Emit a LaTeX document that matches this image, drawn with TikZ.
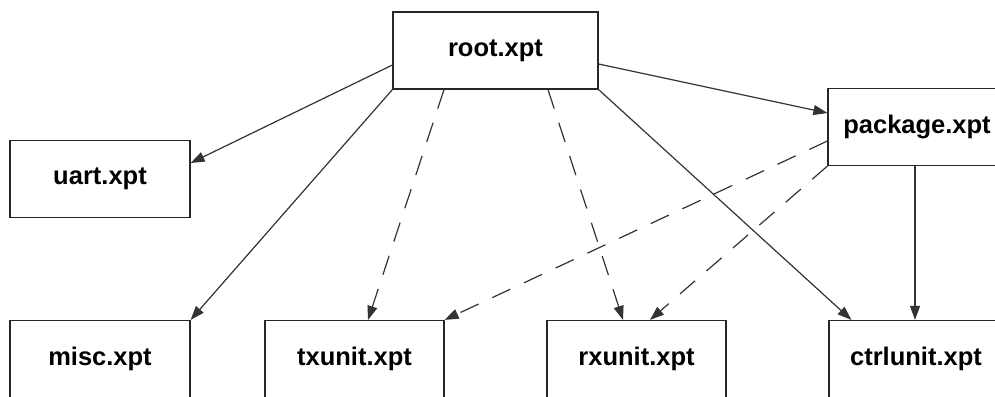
\documentclass[tikz,border=0pt]{standalone}
\usepackage{fontspec}
\setmainfont{Liberation Sans}
\usetikzlibrary{arrows.meta}
\begin{document}
\begin{tikzpicture}[x=1pt, y=-1pt, line join=miter, >={Triangle[length=14pt,width=10pt]},
		font=\fontsize{25.5}{30}\selectfont\bfseries,
		file/.style={draw, line width=1.2pt, draw=black!85, fill=white, inner sep=0pt, minimum height=77pt},
		link/.style={->, line width=1.2pt, draw=black!80},
		uses/.style={link, dash pattern=on 20pt off 15pt}]
	\useasboundingbox (0,0) rectangle (995,396);
	\clip (0,0) rectangle (995,396);
	% files
	\node[file, minimum width=205pt] (root) at (495.5,50.5) {root.xpt};
	\node[file, minimum width=180pt] (uart) at (100,179) {uart.xpt};
	\node[file, minimum width=178pt] (package) at (917,127) {package.xpt};
	\node[file, minimum width=180pt] (misc) at (100,359) {misc.xpt};
	\node[file, minimum width=179pt] (txunit) at (354.5,359) {txunit.xpt};
	\node[file, minimum width=179pt] (rxunit) at (636.5,359) {rxunit.xpt};
	\node[file, minimum width=174pt] (ctrlunit) at (916,359) {ctrlunit.xpt};
	% root links
	\draw[link] ([yshift=-14.5pt]root.west) -- ([yshift=16pt]uart.east);
	\draw[link] ([yshift=-13.5pt]root.east) -- ([yshift=14pt]package.west);
	\draw[link] (root.south west) -- (misc.north east);
	\draw[uses] ([xshift=-51.5pt]root.south) -- ([xshift=13.5pt]txunit.north);
	\draw[uses] ([xshift=52.5pt]root.south) -- ([xshift=-13.5pt]rxunit.north);
	\draw[link] (root.south east) -- ([xshift=23pt]ctrlunit.north west);
	% package links
	\draw[uses] ([yshift=-14pt]package.west) -- (txunit.north east);
	\draw[uses] (package.south west) -- ([xshift=13.5pt]rxunit.north);
	\draw[link] ([xshift=-2pt]package.south) -- ([xshift=-2pt]package.south |- ctrlunit.north);
\end{tikzpicture}
\end{document}
